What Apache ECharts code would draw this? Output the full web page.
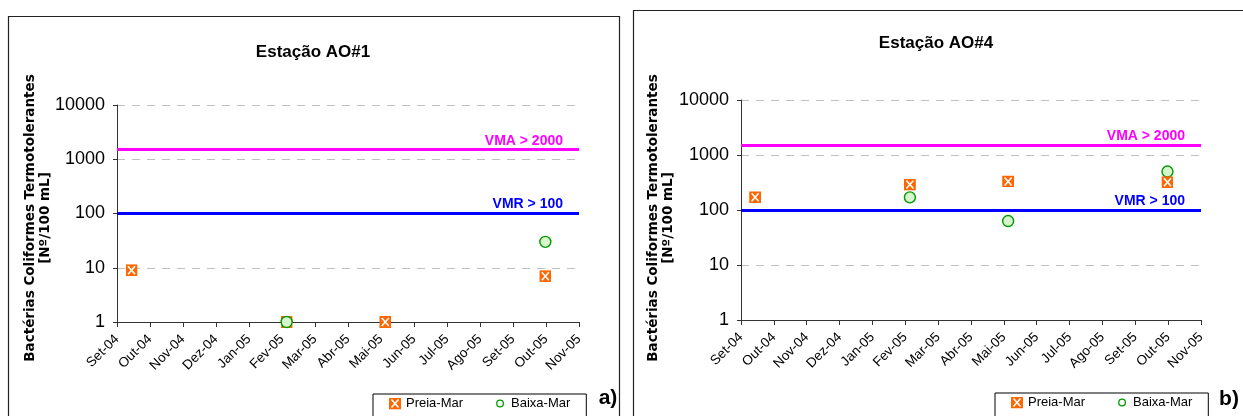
<!DOCTYPE html>
<html>
<head>
<meta charset="utf-8">
<script src="https://cdn.jsdelivr.net/npm/echarts@6/dist/echarts.min.js"></script>
<style>
  html, body { margin: 0; padding: 0; background: #fff; }
  #chart { width: 1243px; height: 416px; }
</style>
</head>
<body>
<div id="chart"></div>
<script>
// month tick labels (x axis = month index from Set-04)
const monthLabels = ["Set-04", "Out-04", "Nov-04", "Dez-04", "Jan-05", "Fev-05", "Mar-05",
  "Abr-05", "Mai-05", "Jun-05", "Jul-05", "Ago-05", "Set-05", "Out-05", "Nov-05"];
const yTicks = [1, 10, 100, 1000, 10000];

// Estação AO#1
const ao1PreiaX = [0.44, 5.14, 8.13, 12.98];
const ao1PreiaY = [9, 1, 1, 7];
const ao1BaixaX = [5.14, 12.98];
const ao1BaixaY = [1, 30];

// Estação AO#4
const ao4PreiaX = [0.43, 5.14, 8.13, 12.98];
const ao4PreiaY = [170, 290, 330, 320];
const ao4BaixaX = [5.14, 8.13, 12.98];
const ao4BaixaY = [170, 63, 500];

// limits
const vmaValue = 1500;
const vmrValue = 100;
const vmaText = "VMA > 2000";
const vmrText = "VMR > 100";

const FONT = '"Liberation Sans", Arial, sans-serif';

function svgUrl(svg) {
  return "image://data:image/svg+xml;charset=utf-8," + encodeURIComponent(svg);
}
const preiaIcon = svgUrl(
  "<svg xmlns='http://www.w3.org/2000/svg' width='12' height='12'>" +
  "<rect width='12' height='12' fill='#FF6600'/>" +
  "<path d='M2.5,2 L9.5,10 M9.5,2 L2.5,10' stroke='#ffffff' stroke-width='1.6'/></svg>");
const baixaLegendIcon = svgUrl(
  "<svg xmlns='http://www.w3.org/2000/svg' width='12' height='12'>" +
  "<circle cx='6' cy='6' r='3.3' fill='#ffffff' stroke='#009900' stroke-width='1.3'/></svg>");

const pairs = (xs, ys) => xs.map((x, i) => [x, ys[i]]);

function xAxisFor(gridIndex) {
  return {
    type: "value", gridIndex, min: 0, max: 14, interval: 1,
    axisLine: { lineStyle: { color: "#333", width: 1 } },
    axisTick: { show: true, length: 5, lineStyle: { color: "#333" } },
    splitLine: { show: false },
    axisLabel: {
      rotate: 45, margin: 15, fontSize: 13.5, color: "#000", fontFamily: FONT,
      formatter: (v) => monthLabels[v] || "",
    },
  };
}

function yAxisFor(gridIndex) {
  return {
    type: "log", logBase: 10, gridIndex, min: yTicks[0], max: yTicks[yTicks.length - 1],
    axisLine: { show: true, lineStyle: { color: "#333", width: 1 } },
    axisTick: { show: true, length: 4, lineStyle: { color: "#333" } },
    splitLine: { show: true, lineStyle: { color: "#c0c0c0", type: [8, 7], width: 1 } },
    axisLabel: { fontSize: 18, color: "#000", margin: 12, fontFamily: FONT,
      formatter: (v) => String(Math.round(v)) },
  };
}

function limitLines() {
  return {
    silent: true,
    symbol: "none",
    data: [
      {
        yAxis: vmaValue,
        lineStyle: { color: "#FF00FF", width: 3, type: "solid" },
        label: { show: true, formatter: vmaText, position: "insideEndTop", distance: [16, 2],
          color: "#FF00FF", fontWeight: "bold", fontSize: 14, fontFamily: FONT },
      },
      {
        yAxis: vmrValue,
        lineStyle: { color: "#0000FF", width: 3, type: "solid" },
        label: { show: true, formatter: vmrText, position: "insideEndTop", distance: [16, 2],
          color: "#0000FF", fontWeight: "bold", fontSize: 14, fontFamily: FONT },
      },
    ],
  };
}

function preiaSeries(idx, xs, ys, z) {
  return {
    name: "Preia-Mar", type: "scatter", xAxisIndex: idx, yAxisIndex: idx,
    symbol: preiaIcon, symbolSize: 12, clip: false, z,
    itemStyle: { color: "#FF6600", opacity: 1 },
    data: pairs(xs, ys), markLine: limitLines(),
  };
}
function baixaSeries(idx, xs, ys, z) {
  return {
    name: "Baixa-Mar", type: "scatter", xAxisIndex: idx, yAxisIndex: idx,
    symbol: "circle", symbolSize: 11, clip: false, z,
    itemStyle: { color: "#d6f5cc", borderColor: "#009900", borderWidth: 1.4, opacity: 1 },
    data: pairs(xs, ys),
  };
}

function legendAt(left, top) {
  return {
    left, top, orient: "horizontal", selectedMode: false,
    itemWidth: 12, itemHeight: 12, itemGap: 31,
    borderColor: "#000", borderWidth: 1, padding: [3, 16, 12, 16],
    textStyle: { fontSize: 13, color: "#000", fontFamily: FONT },
    data: [
      { name: "Preia-Mar", icon: preiaIcon },
      { name: "Baixa-Mar", icon: baixaLegendIcon },
    ],
  };
}

function axisName(x, y) {
  return {
    type: "text", x, y, rotation: Math.PI / 2, silent: true,
    style: {
      text: "Bactérias Coliformes Termotolerantes\n[Nº/100 mL]",
      font: 'bold 13.5px "DejaVu Sans", sans-serif', lineHeight: 15,
      fill: "#000", align: "center", verticalAlign: "middle",
      textAlign: "center", textVerticalAlign: "middle",
    },
  };
}

function plainText(x, y, text, font) {
  return {
    type: "text", x, y, silent: true,
    style: { text, font, fill: "#000", align: "center", verticalAlign: "middle",
      textAlign: "center", textVerticalAlign: "middle" },
  };
}

const chart = echarts.init(document.getElementById("chart"), null, { renderer: "canvas" });
chart.setOption({
  backgroundColor: "#fff",
  animation: false,
  grid: [
    { left: 117, right: 1243 - 579, top: 105, bottom: 416 - 322 },
    { left: 741, right: 1243 - 1201, top: 100, bottom: 416 - 320 },
  ],
  xAxis: [xAxisFor(0), xAxisFor(1)],
  yAxis: [yAxisFor(0), yAxisFor(1)],
  legend: [legendAt(373, 394), legendAt(995, 393)],
  series: [
    preiaSeries(0, ao1PreiaX, ao1PreiaY, 2),
    baixaSeries(0, ao1BaixaX, ao1BaixaY, 3),
    preiaSeries(1, ao4PreiaX, ao4PreiaY, 3),
    baixaSeries(1, ao4BaixaX, ao4BaixaY, 2),
  ],
  graphic: [
    { type: "rect", shape: { x: 8.5, y: 16.5, width: 611, height: 500 }, silent: true,
      style: { fill: "none", stroke: "#222", lineWidth: 1.2 } },
    { type: "rect", shape: { x: 633.5, y: 10.5, width: 700, height: 500 }, silent: true,
      style: { fill: "none", stroke: "#222", lineWidth: 1.2 } },
    plainText(313, 52, "Estação AO#1", 'bold 17px "Liberation Sans", Arial, sans-serif'),
    plainText(936, 43, "Estação AO#4", 'bold 17px "Liberation Sans", Arial, sans-serif'),
    axisName(38, 218),
    axisName(661, 218),
    plainText(608, 398, "a)", 'bold 21px "Liberation Sans", Arial, sans-serif'),
    plainText(1229, 399, "b)", 'bold 21px "Liberation Sans", Arial, sans-serif'),
  ],
});
</script>
</body>
</html>
